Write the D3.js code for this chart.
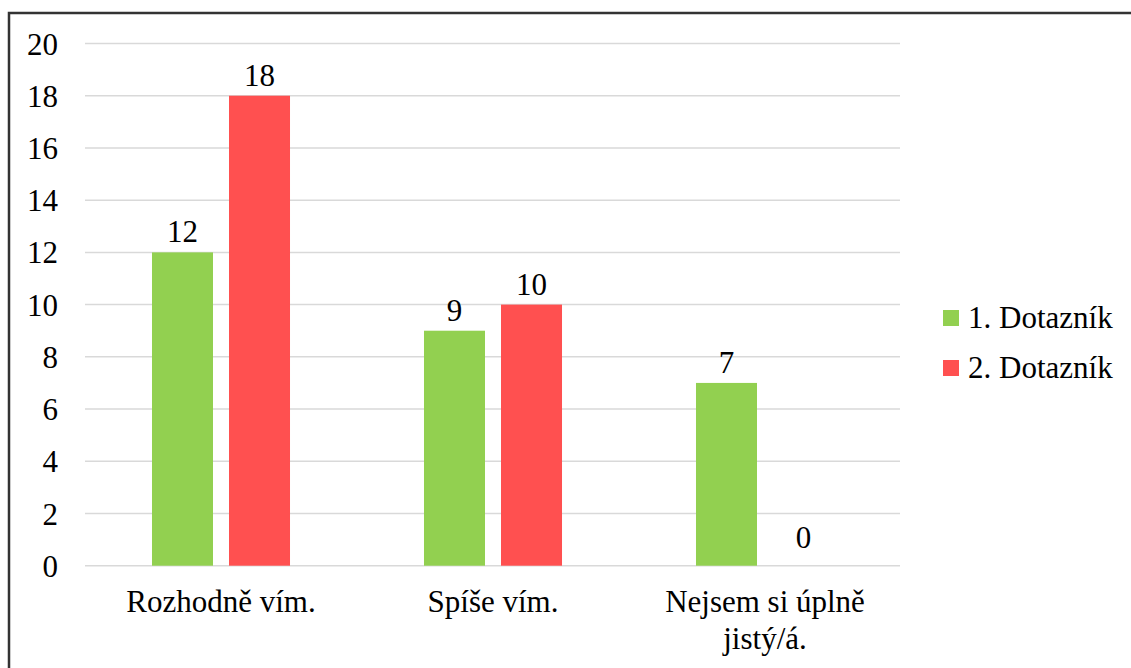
<!DOCTYPE html>
<html>
<head>
<meta charset="utf-8">
<script src="https://cdn.jsdelivr.net/npm/d3@7"></script>
<style>
  body { margin: 0; background: #fff; }
</style>
</head>
<body>
<div id="chart"></div>
<script>
const width = 1131
const height = 668
const fontFam = "'Liberation Serif', 'Noto Serif', 'Nimbus Roman', 'Nimbus Roman No9 L', FreeSerif, Tinos, 'Times New Roman', Times, 'DejaVu Serif', serif"

// data
const categories = ["Rozhodně vím.", "Spíše vím.", "Nejsem si úplně jistý/á."]
const series = ["1. Dotazník", "2. Dotazník"]
const dotaznik1 = [12, 9, 7]
const dotaznik2 = [18, 10, 0]
const yTicks = [0, 2, 4, 6, 8, 10, 12, 14, 16, 18, 20]
const colors = ["#92D050", "#FF5050"]

const values = [dotaznik1, dotaznik2]

const svg = d3.select("#chart")
  .append("svg")
    .attr("width", width)
    .attr("height", height)
    .style("font-family", fontFam)

// outer frame (only top and left edges show in the picture)
svg.append("rect")
  .attr("x", 9)
  .attr("y", 13)
  .attr("width", width + 20)
  .attr("height", height + 20)
  .attr("fill", "none")
  .attr("stroke", "#333")
  .attr("stroke-width", 2.5)

const y = d3.scaleLinear()
  .domain([0, 20])
  .range([565.7, 43.5])

const x0 = d3.scaleBand()
  .domain(categories)
  .range([85, 901])
  .paddingInner(0.4926)
  .paddingOuter(0.2463)

const x1 = d3.scaleBand()
  .domain(series)
  .range([0, x0.bandwidth()])
  .paddingInner(0.208)

// gridlines
svg.append("g")
  .selectAll("line")
  .data(yTicks)
  .enter()
  .append("line")
    .attr("x1", 85)
    .attr("x2", 900)
    .attr("y1", d => y(d))
    .attr("y2", d => y(d))
    .attr("stroke", "#d9d9d9")
    .attr("stroke-width", 1.5)

// y axis labels
const yAxis = svg.append("g")
  .attr("transform", "translate(58,0)")
  .call(d3.axisLeft(y).tickValues(yTicks).tickSize(0).tickPadding(0))
yAxis.attr("font-family", null).attr("font-size", 31)
yAxis.select(".domain").remove()
yAxis.selectAll("text")
  .attr("fill", "#000")
  .attr("dy", "0.34em")

// bars
const groups = svg.append("g")
  .selectAll("g")
  .data(categories)
  .enter()
  .append("g")
    .attr("transform", d => "translate(" + x0(d) + ",0)")

const cells = groups.selectAll("g")
  .data((c, i) => series.map((s, j) => ({ s: s, j: j, v: values[j][i] })))
  .enter()
  .append("g")

cells.append("rect")
  .attr("x", d => x1(d.s))
  .attr("y", d => y(d.v))
  .attr("width", x1.bandwidth())
  .attr("height", d => y(0) - y(d.v))
  .attr("fill", d => colors[d.j])

cells.append("text")
  .attr("x", d => x1(d.s) + x1.bandwidth() / 2)
  .attr("y", d => y(d.v) - (d.v === 0 ? 18 : 10))
  .attr("text-anchor", "middle")
  .attr("font-size", 31)
  .text(d => d.v)

// category labels (wrapped like the original)
const catLines = [["Rozhodně vím."], ["Spíše vím."], ["Nejsem si úplně", "jistý/á."]]
svg.append("g")
  .selectAll("text")
  .data(categories)
  .enter()
  .append("text")
    .attr("x", d => x0(d) + x0.bandwidth() / 2)
    .attr("y", 612)
    .attr("text-anchor", "middle")
    .attr("font-size", 31)
    .each(function(d, i) {
      d3.select(this).selectAll("tspan")
        .data(catLines[i])
        .enter()
        .append("tspan")
          .attr("x", x0(d) + x0.bandwidth() / 2)
          .attr("dy", (l, k) => k === 0 ? 0 : 37)
          .text(l => l)
    })

// legend
const legend = svg.append("g")
  .selectAll("g")
  .data(series)
  .enter()
  .append("g")
    .attr("transform", (d, i) => "translate(943," + (310 + i * 50) + ")")

legend.append("rect")
  .attr("width", 16)
  .attr("height", 16)
  .attr("fill", (d, i) => colors[i])

legend.append("text")
  .attr("x", 25)
  .attr("y", 18)
  .attr("font-size", 31)
  .text(d => d)
</script>
</body>
</html>
